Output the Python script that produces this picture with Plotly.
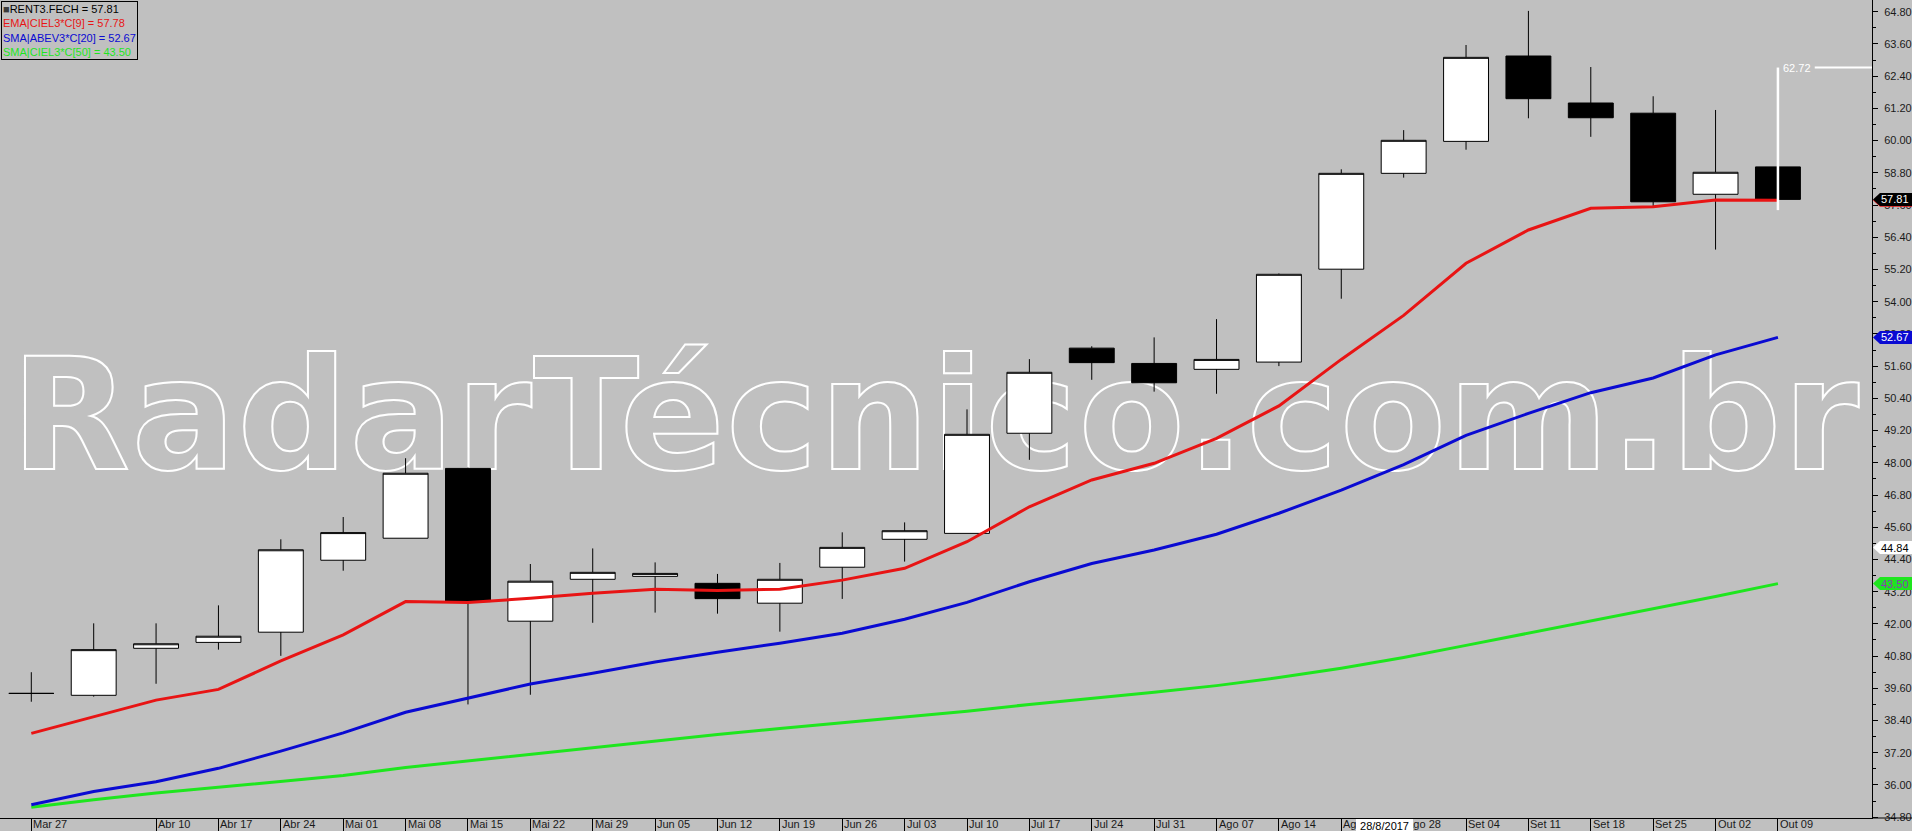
import plotly.graph_objects as go

# ---------------- data ----------------
week_labels = ["Mar 27", "", "Abr 10", "Abr 17", "Abr 24", "Mai 01", "Mai 08", "Mai 15",
               "Mai 22", "Mai 29", "Jun 05", "Jun 12", "Jun 19", "Jun 26", "Jul 03",
               "Jul 10", "Jul 17", "Jul 24", "Jul 31", "Ago 07", "Ago 14", "Ago 21",
               "Ago 28", "Set 04", "Set 11", "Set 18", "Set 25", "Out 02", "Out 09"]

open_ = [39.41, 39.34, 41.09, 41.31, 41.69, 44.37, 45.19, 47.79, 42.10, 43.66,
         43.77, 43.51, 42.77, 44.11, 45.15, 45.37, 49.10, 52.27, 51.70, 51.48,
         51.75, 55.21, 58.78, 59.97, 63.15, 61.40, 61.02, 58.00, 59.02]
high = [40.20, 42.02, 42.02, 42.69, 45.15, 45.98, 48.17, 47.82, 44.23, 44.81,
        44.29, 43.86, 44.27, 45.41, 45.78, 49.99, 51.86, 52.34, 52.67, 53.35,
        55.05, 58.93, 60.39, 63.56, 64.83, 62.74, 61.65, 61.14, 59.02]
low = [39.10, 39.29, 39.77, 41.04, 40.81, 43.98, 45.19, 39.00, 39.36, 42.04,
       42.42, 42.38, 41.71, 42.93, 44.32, 45.37, 48.11, 51.09, 50.65, 50.57,
       51.60, 54.11, 58.62, 59.66, 60.83, 60.14, 57.56, 55.94, 57.81]
close = [39.41, 41.04, 41.26, 41.54, 44.76, 45.40, 47.61, 42.83, 43.59, 43.92,
         43.88, 42.94, 43.66, 44.85, 45.47, 49.06, 51.37, 51.73, 50.98, 51.85,
         55.02, 58.78, 60.01, 63.10, 61.56, 60.85, 57.72, 58.82, 57.81]

ema9 = [37.92, 38.54, 39.16, 39.56, 40.62, 41.59, 42.83, 42.80, 42.95, 43.14,
        43.29, 43.24, 43.29, 43.63, 44.07, 45.06, 46.36, 47.36, 47.98, 48.91,
        50.12, 51.85, 53.49, 55.43, 56.67, 57.48, 57.54, 57.79, 57.78]
sma20 = [35.26, 35.76, 36.12, 36.62, 37.26, 37.94, 38.71, 39.23, 39.76, 40.16,
         40.58, 40.94, 41.28, 41.65, 42.17, 42.80, 43.57, 44.25, 44.75, 45.34,
         46.12, 46.98, 47.93, 49.02, 49.84, 50.61, 51.16, 52.02, 52.67]
sma50 = [35.17, 35.45, 35.70, 35.92, 36.12, 36.35, 36.65, 36.90, 37.15, 37.40,
         37.65, 37.88, 38.10, 38.32, 38.52, 38.75, 39.00, 39.22, 39.45, 39.70,
         40.00, 40.35, 40.75, 41.20, 41.65, 42.10, 42.55, 43.02, 43.50]

crosshair_price = 44.84
crosshair_date = "28/8/2017"
crosshair_index = 22
measure_top = 62.72
measure_bottom = 57.41
watermark = "RadarTécnico.com.br"

x = list(range(len(close)))

# ---------------- style ----------------
BG = "#C0C0C0"
FONT = "Liberation Sans, Arial, sans-serif"
RED = "#E81414"
BLUE = "#0A0AD2"
GREEN = "#1EE61E"

fig = go.Figure()

fig.add_trace(go.Candlestick(
    x=x, open=open_, high=high, low=low, close=close,
    increasing=dict(line=dict(color="black", width=1), fillcolor="white"),
    decreasing=dict(line=dict(color="black", width=1), fillcolor="black"),
    whiskerwidth=0, hoverinfo="skip", showlegend=False,
))
for vals, col in [(sma50, GREEN), (sma20, BLUE), (ema9, RED)]:
    fig.add_trace(go.Scatter(x=x, y=vals, mode="lines",
                             line=dict(color=col, width=3),
                             hoverinfo="skip", showlegend=False))

shapes = []
annotations = []

# watermark (outlined text, below the data)
shapes.append(dict(
    type="rect", xref="paper", yref="paper", x0=0.4468, x1=0.5528, y0=0.456, y1=0.556,
    line=dict(width=0), fillcolor="rgba(0,0,0,0)", layer="below",
    label=dict(
        text='<span style="font-weight:bold;letter-spacing:1.3px;fill:none;stroke:white;stroke-width:2px">'
             + watermark + '</span>',
        font=dict(family="DejaVu Sans", size=155, color="rgba(0,0,0,0)"),
        textposition="middle center", padding=0),
))

# measurement line on last candle
shapes.append(dict(type="line", xref="x", yref="y", x0=x[-1], x1=x[-1],
                   y0=measure_bottom, y1=measure_top,
                   line=dict(color="white", width=2.5), layer="above"))
shapes.append(dict(type="line", xref="x", yref="y", x0=x[-1] + 0.59, x1=x[-1] + 1.6,
                   y0=measure_top, y1=measure_top,
                   line=dict(color="white", width=2), layer="above"))
annotations.append(dict(xref="x", yref="y", x=x[-1], y=measure_top, xanchor="left",
                        yanchor="middle", xshift=5, text=f"{measure_top:.2f}",
                        showarrow=False, font=dict(family=FONT, size=11, color="white"),
                        borderpad=0, borderwidth=0))

# bottom axis extension to the right edge
shapes.append(dict(type="line", xref="paper", yref="paper", x0=1, x1=1.03, y0=0, y1=0,
                   line=dict(color="black", width=1), layer="above"))

# price tags on right axis
def tag(value, fill, textcolor, show_text=True):
    shapes.append(dict(type="path", xref="paper", xsizemode="pixel", xanchor=1,
                       yref="y", ysizemode="pixel", yanchor=value,
                       path="M 1,0 L 8,6.5 L 45,6.5 L 45,-6.5 L 8,-6.5 Z",
                       fillcolor=fill, line=dict(width=0), layer="above"))
    if show_text:
        annotations.append(dict(xref="paper", yref="y", x=1, y=value, xanchor="left",
                                yanchor="middle", xshift=9, text=f"{value:.2f}",
                                showarrow=False, borderpad=0, borderwidth=0,
                                font=dict(family=FONT, size=11, color=textcolor)))

tag(ema9[-1], RED, "white", show_text=False)   # hidden under the close tag
tag(close[-1], "black", "white")
tag(sma20[-1], BLUE, "white")
tag(crosshair_price, "white", "black")
tag(sma50[-1], GREEN, "#8A3CB4")

# x tick labels (left-aligned after separators)
tick_idx = [i for i, t in enumerate(week_labels) if t]
for i in tick_idx:
    annotations.append(dict(xref="x", yref="paper", x=i, y=0, xanchor="left",
                            yanchor="top", xshift=2, yshift=0, text=week_labels[i],
                            showarrow=False, borderpad=0, borderwidth=0,
                            font=dict(family=FONT, size=11, color="#1a1a1a")))
# crosshair date box
annotations.append(dict(xref="x", yref="paper", x=crosshair_index, y=0, xanchor="center",
                        yanchor="top", xshift=-19, yshift=-1,
                        text="\u00a0" + crosshair_date + "\u00a0",
                        showarrow=False, bgcolor="white", borderpad=1, borderwidth=0,
                        font=dict(family=FONT, size=11, color="black")))

# legend box
legend_text = "<br>".join([
    f"<span style='color:#3a3a3a'>■</span><span style='color:#000000'>RENT3.FECH = {close[-1]:.2f}</span>",
    f"<span style='color:{RED}'>EMA|CIEL3*C[9] = {ema9[-1]:.2f}</span>",
    f"<span style='color:{BLUE}'>SMA|ABEV3*C[20] = {sma20[-1]:.2f}</span>",
    f"<span style='color:{GREEN}'>SMA|CIEL3*C[50] = {sma50[-1]:.2f}</span>",
])
annotations.append(dict(xref="paper", yref="paper", x=0, y=1, xanchor="left", yanchor="top",
                        xshift=1, yshift=-1, text=legend_text, align="left",
                        showarrow=False, bordercolor="black", borderwidth=1, borderpad=1,
                        font=dict(family=FONT, size=11, color="black")))

fig.update_layout(
    width=1912, height=831, autosize=False,
    margin=dict(l=0, r=40, t=0, b=13, pad=0),
    paper_bgcolor=BG, plot_bgcolor=BG,
    showlegend=False, hovermode=False,
    boxgap=0.28, boxgroupgap=0,
    shapes=shapes, annotations=annotations,
    xaxis=dict(range=[-0.502, 29.508], showgrid=False, zeroline=False,
               showline=True, linecolor="black", linewidth=1,
               tickmode="array", tickvals=tick_idx, ticktext=["" for _ in tick_idx],
               ticks="outside", ticklen=13, tickcolor="black", tickwidth=1,
               showticklabels=False, rangeslider=dict(visible=False), fixedrange=True),
    yaxis=dict(side="right", range=[34.77, 65.236], showgrid=False, zeroline=False,
               showline=True, linecolor="black", linewidth=1,
               tickmode="linear", tick0=36, dtick=1.2, tickformat=".2f",
               ticks="outside", ticklen=5, tickcolor="black", tickwidth=1,
               ticklabelstandoff=4,
               minor=dict(dtick=0.6, ticks="outside", ticklen=3, tickcolor="black"),
               tickfont=dict(family=FONT, size=11, color="#1a1a1a"), fixedrange=True),
)

fig.write_html("out.html", config={"displayModeBar": False, "staticPlot": True},
               post_script="document.body.style.margin='0';document.body.style.overflow='hidden';")
